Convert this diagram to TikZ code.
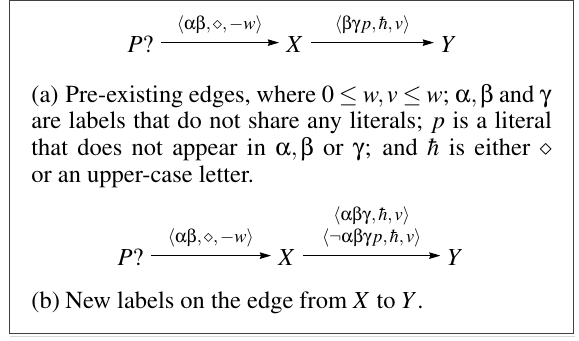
\documentclass[tikz,border=0pt]{standalone}
\usepackage[T1]{fontenc}
\usepackage{mathptmx}
\usepackage[Symbol]{upgreek}
\usepackage{tikz}
\usetikzlibrary{arrows.meta}

\begin{document}
\begin{tikzpicture}[
  x=0.49pt,y=-0.49pt,
  vtx/.style={anchor=base,inner xsep=3.4pt,inner ysep=0pt,text height=9.2pt,text depth=0pt,font=\fontsize{12}{13.1}\selectfont},
  lbl/.style={above=4pt,font=\small,align=center,inner sep=0pt},
  edge/.style={thin,-{Stealth[length=5.5pt,width=3.2pt,inset=0.6pt]}},
  capbox/.style={anchor=north west,inner sep=0pt,text width=255pt,align=justify,font=\fontsize{12}{13.1}\selectfont},
  frame/.style={line width=0.6pt,black!75}
]
\useasboundingbox (0,0) rectangle (579,340);
\draw[frame] (9.5,0.8) rectangle (573.5,333.5);
\draw[black!15,line width=0.5pt] (9.5,336.5) -- (575,336.5);

% (a) pre-existing edges
\node[vtx] (P1) at (140.5,52) {$P?$};
\node[vtx] (X1) at (295,52) {$X$};
\node[vtx] (Y1) at (449,52) {$Y$};
\foreach \a/\b/\t in {P1/X1/{$\langle\upalpha\upbeta,\diamond,-w\rangle$},X1/Y1/{$\langle\upbeta\upgamma p,\hbar,v\rangle$}}{
  \draw[edge] (\a) -- node[lbl] {\t} (\b);
}
\node[capbox] (capA) at (31,84) {\hangindent=16.7pt\hangafter=1\noindent\makebox[16.7pt][l]{(a)}Pre-existing edges, where $0\leq w,v\leq w$; $\upalpha,\upbeta$ and $\upgamma$\linebreak are labels that do not share any literals; $p$ is a literal\linebreak that does not appear in $\upalpha,\upbeta$ or $\upgamma$; and $\hbar$ is either $\diamond$\linebreak or an upper-case letter.};

% (b) new labels
\node[vtx] (P2) at (130.5,265) {$P?$};
\node[vtx] (X2) at (287,265) {$X$};
\node[vtx] (Y2) at (455.5,265) {$Y$};
\foreach \a/\b/\t in {P2/X2/{$\langle\upalpha\upbeta,\diamond,-w\rangle$},X2/Y2/{$\langle\upalpha\upbeta\upgamma,\hbar,v\rangle$\\$\langle\neg\upalpha\upbeta\upgamma p,\hbar,v\rangle$}}{
  \draw[edge] (\a) -- node[lbl] {\t} (\b);
}
\node[capbox,anchor=base west] (capB) at (31,308) {\makebox[16.7pt][l]{(b)}New labels on the edge from $X$ to $Y$.};
\end{tikzpicture}
\end{document}
